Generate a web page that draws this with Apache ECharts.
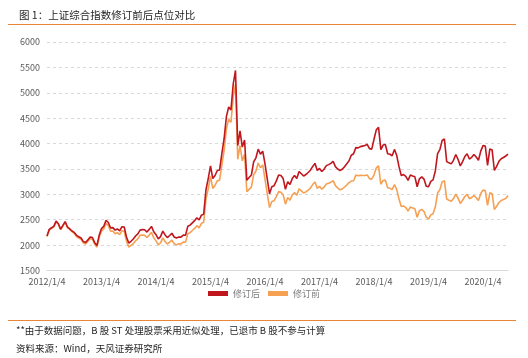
<!DOCTYPE html>
<html><head><meta charset="utf-8">
<script src="https://cdn.jsdelivr.net/npm/echarts@6/dist/echarts.min.js"></script>
<style>html,body{margin:0;padding:0;background:#fff}#c{width:528px;height:358px}</style>
</head><body><div id="c"></div>
<script>
// Semi-monthly samples (4th and 19th), 2012/1/4 .. 2020/6/19
const startYear = 2012, endYear = 2020, endMonth = 6;
const tickLabels = ['2012/1/4','2013/1/4','2014/1/4','2015/1/4','2016/1/4','2017/1/4','2018/1/4','2019/1/4','2020/1/4'];
const yTicks = [1500,2000,2500,3000,3500,4000,4500,5000,5500,6000];
const seriesNames = ['修订后','修订前'];

const revised = [
// 2012
2180,2310,2342,2369,2472,2422,2314,2388,2464,2357,2321,2278,2250,2192,2164,2139,2069,2051,2103,2159,2149,2048,1992,2198,
// 2013
2325,2370,2490,2446,2337,2345,2295,2318,2280,2362,2356,2160,2040,2075,2120,2180,2222,2295,2305,2302,2257,2310,2368,2262,
// 2014
2205,2124,2168,2275,2200,2148,2190,2233,2160,2140,2158,2158,2196,2195,2370,2393,2438,2482,2538,2494,2590,2610,3090,3310,
// 2015
3560,3310,3370,3470,3480,3800,4100,4530,4720,4660,5170,5440,3960,4250,3930,4070,3280,3330,3380,3640,3720,3890,3790,3850,
// 2016
3600,3300,3010,3150,3170,3265,3380,3370,3310,3100,3250,3195,3310,3370,3310,3450,3405,3360,3390,3430,3475,3550,3610,3470,
// 2017
3510,3450,3495,3565,3585,3610,3650,3545,3500,3470,3495,3545,3600,3660,3770,3800,3920,3915,3940,3950,3960,3985,3900,3890,
// 2018
4085,4270,4320,3880,3970,3980,3800,3790,3760,3885,3765,3545,3370,3390,3355,3275,3380,3360,3345,3150,3305,3345,3300,3160,
// 2019
3150,3255,3285,3460,3800,3880,4060,4090,3645,3620,3600,3670,3785,3690,3560,3645,3745,3800,3695,3730,3785,3735,3670,3850,
// 2020
3960,3950,3570,3895,3875,3470,3550,3650,3700,3725,3755,3790
];
const original = [
// 2012
2169,2298,2330,2357,2460,2410,2302,2376,2452,2344,2308,2264,2229,2169,2140,2114,2043,2024,2074,2128,2117,2016,1959,2160,
// 2013
2276,2317,2428,2382,2273,2278,2225,2245,2205,2282,2272,2080,1960,1995,2029,2085,2123,2191,2198,2193,2149,2197,2251,2147,
// 2014
2083,2004,2044,2142,2071,2021,2058,2098,2027,2008,2024,2024,2060,2059,2223,2245,2288,2329,2382,2341,2430,2450,2900,3108,
// 2015
3351,3116,3174,3269,3280,3582,3864,4287,4480,4417,4910,5170,3690,3957,3660,3790,3050,3097,3143,3386,3459,3617,3524,3578,
// 2016
3296,3007,2740,2860,2874,2955,3053,3042,2992,2806,2938,2885,2988,3037,2982,3108,3067,3026,3048,3084,3125,3192,3244,3118,
// 2017
3158,3101,3140,3202,3218,3237,3270,3170,3127,3090,3105,3144,3183,3230,3262,3268,3379,3366,3374,3371,3372,3382,3309,3297,
// 2018
3385,3520,3560,3199,3273,3279,3131,3118,3092,3193,3092,2907,2759,2772,2740,2669,2751,2730,2716,2550,2676,2703,2666,2549,
// 2019
2514,2596,2618,2755,3027,3090,3246,3270,2906,2882,2862,2917,3005,2925,2821,2883,2957,2999,2914,2938,2975,2933,2878,3017,
// 2020
3083,3075,2783,3030,3012,2702,2764,2839,2878,2898,2920,2975
];

const categories = [];
for (let y = startYear; y <= endYear; y++) {
  for (let m = 1; m <= 12; m++) {
    if (y === endYear && m > endMonth) break;
    categories.push(y + '/' + m + '/4');
    categories.push(y + '/' + m + '/19');
  }
}

const chart = echarts.init(document.getElementById('c'), null, {renderer: 'canvas'});
const font = '"Noto Sans CJK SC", "Noto Sans", sans-serif';
chart.setOption({
  animation: false,
  textStyle: {fontFamily: font},
  title: {
    text: '图 1：上证综合指数修订前后点位对比',
    left: 14, top: 5,
    textStyle: {fontSize: 10.5, fontWeight: 'normal', color: '#262626', fontFamily: font}
  },
  grid: {left: 47, right: 20, top: 42, bottom: 87.5, containLabel: false},
  legend: {
    data: seriesNames,
    bottom: 55, left: 'center',
    icon: 'rect', itemWidth: 20, itemHeight: 5, itemGap: 8,
    textStyle: {fontSize: 9, color: '#7f7f7f', fontFamily: font}
  },
  xAxis: {
    type: 'category', data: categories, boundaryGap: false,
    axisLine: {lineStyle: {color: '#d9d9d9', width: 1}},
    axisTick: {show: false},
    axisLabel: {
      interval: function (i, v) { return tickLabels.indexOf(v) >= 0; },
      fontSize: 9, color: '#595959', margin: 7, fontFamily: font
    },
    splitLine: {show: false}
  },
  yAxis: {
    type: 'value', min: yTicks[0], max: yTicks[yTicks.length - 1], interval: 500,
    axisLine: {show: false}, axisTick: {show: false},
    axisLabel: {fontSize: 9, color: '#595959', margin: 7, fontFamily: font,
      formatter: function (v) { return String(v); }},
    splitLine: {lineStyle: {color: '#d9d9d9', type: [3, 3], width: 1}}
  },
  series: [
    {name: seriesNames[1], type: 'line', data: original, symbol: 'none', z: 2,
     lineStyle: {color: '#F5A053', width: 1.6}, itemStyle: {color: '#F5A053'}},
    {name: seriesNames[0], type: 'line', data: revised, symbol: 'none', z: 3,
     lineStyle: {color: '#C0161E', width: 1.6}, itemStyle: {color: '#C0161E'}}
  ],
  graphic: [
    {type: 'line', shape: {x1: 8, y1: 24.5, x2: 516, y2: 24.5}, style: {stroke: '#E8873A', lineWidth: 1}},
    {type: 'line', shape: {x1: 8, y1: 320.5, x2: 516, y2: 320.5}, style: {stroke: '#E8873A', lineWidth: 1}},
    {type: 'text', left: 16, top: 326, style: {text: '**由于数据问题，B 股 ST 处理股票采用近似处理，已退市 B 股不参与计算', font: '9.5px ' + font, fill: '#262626'}},
    {type: 'text', left: 16, top: 344, style: {text: '资料来源：Wind，天风证券研究所', font: '9.5px ' + font, fill: '#262626'}}
  ]
});
</script></body></html>
